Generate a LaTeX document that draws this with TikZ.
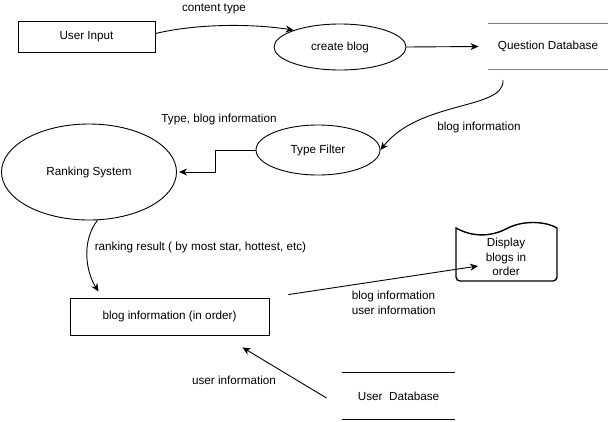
\documentclass[tikz,border=0pt]{standalone}
\usepackage{fontspec}
\setmainfont{Liberation Sans}
\usetikzlibrary{positioning,arrows.meta,shapes.geometric}
\definecolor{dbgray}{RGB}{128,128,128}

\begin{document}
\begin{tikzpicture}[x=1pt,y=-1pt,line width=0.9pt,
  font=\fontsize{11.7}{14.5}\selectfont,
  proc/.style={draw,ellipse,inner sep=0pt},
  box/.style={draw,rectangle,inner sep=0pt},
  store/.style={inner sep=0pt,minimum height=45},
  flow/.style={-{Stealth[length=8pt,width=7pt,inset=2.5pt]}}]
\useasboundingbox (0,0) rectangle (615,421);

% Processes and entities
\node[box,minimum width=137,minimum height=31] (input) at (86.5,36.5) {User Input};
\node[proc,minimum width=132,minimum height=46] (create) at (340,47) {create blog};
\node[store,minimum width=120] (qdb) at (548,46.5) {Question Database};
\node[proc,minimum width=124,minimum height=50] (filter) at (318,150) {Type Filter};
\node[proc,minimum width=175,minimum height=96] (rank) at (89,172) {Ranking System};
\node[box,minimum width=199,minimum height=37] (order) at (169.5,316.5) {blog information (in order)};
\node[align=center] (disp) at (506,257) {Display\\blogs in\\order};
\node[store,minimum width=113,minimum height=46] (udb) at (398.5,396) {User~~Database};

% Data stores
\draw[dbgray,line width=1.5pt] (qdb.north west) -- (qdb.north east);
\draw[dbgray,line width=1.5pt] (qdb.south west) -- (qdb.south east);
\draw (udb.north west) -- (udb.north east);
\draw (udb.south west) -- (udb.south east);

% Document shape
\draw[line width=1.4pt] (557,228) [rounded corners=4] -- (557,281) -- (456,281) [sharp corners] -- (456,228)
  .. controls (472,237) and (490,237) .. (506,229)
  .. controls (522,220) and (545,221) .. (557,228) -- cycle;

% Flows
\draw[flow] ([yshift=3pt]input.east) .. controls (200,23) and (255,24) .. (create.160);
\draw[flow] (create.east) -- ([xshift=-9pt]qdb.west);
\coordinate (qdbout) at (503,80);
\draw[flow] (qdbout) .. controls (505,110) and (420,100) .. (filter.east);
\draw[flow] (filter.west) -- ++(-40,0) |- ([xshift=2pt]rank.east);
\draw[flow] (rank.-80) .. controls (82,240) and (85,270) .. ([shift={(-71,-6)}]order.north);
\draw[flow] ([shift={(19,-3)}]order.north east) -- ([shift={(-4,9)}]disp.west);
\draw[flow] ([shift={(-15,2)}]udb.west) -- ([shift={(73,12)}]order.south);

% Labels
\node (l1) at (214,9) {content type};
\node (l2) at (479,127) {blog information};
\node (l3) at (219,119) {Type, blog information};
\node[anchor=west] (l4) at (91,247) {ranking result ( by most star, hottest, etc)};
\node[anchor=west,align=left] (l5) at (348,303) {blog information\\user information};
\node (l6) at (234,380) {user information};
\end{tikzpicture}
\end{document}
